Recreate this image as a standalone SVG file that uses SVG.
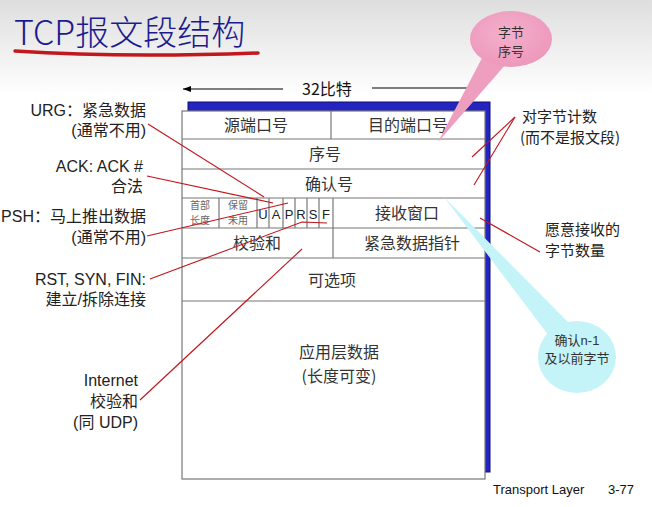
<svg xmlns="http://www.w3.org/2000/svg" width="652" height="507" viewBox="0 0 652 507">
  <defs>
    <linearGradient id="bg" x1="0" y1="0" x2="0" y2="1">
      <stop offset="0" stop-color="#dedede"/>
      <stop offset="1" stop-color="#ffffff"/>
    </linearGradient>
    <radialGradient id="pink" cx="0.45" cy="0.4" r="0.7">
      <stop offset="0" stop-color="#f4b0cc"/>
      <stop offset="1" stop-color="#ec94b8"/>
    </radialGradient>
    <marker id="arrowL" markerWidth="8" markerHeight="6" refX="0" refY="3" orient="auto" markerUnits="userSpaceOnUse">
      <path d="M8,0 L0,3 L8,6 z" fill="#000"/>
    </marker>
    <style>
      .cjk { font-family: "Noto Sans CJK SC", "Liberation Sans", sans-serif; }
      .cell { font-family: "Noto Sans CJK SC", sans-serif; font-size: 16px; fill: #333; text-anchor: middle; }
      .small { font-family: "Noto Sans CJK SC", sans-serif; font-size: 10px; fill: #666; text-anchor: middle; }
      .flag { font-family: "Liberation Sans", sans-serif; font-size: 13px; fill: #222; text-anchor: middle; }
      .lbl { font-family: "Liberation Sans", "Noto Sans CJK SC", sans-serif; font-size: 16px; fill: #222; text-anchor: end; }
      .rlbl { font-family: "Noto Sans CJK SC", sans-serif; font-size: 15px; fill: #222; }
      .grid { fill: none; stroke: #777; stroke-width: 1.2; }
      .lead { stroke: #c0141a; stroke-width: 1.1; fill: none; }
      .bub { font-family: "Noto Sans CJK SC", sans-serif; font-size: 13px; fill: #333; text-anchor: middle; }
    </style>
  </defs>

  <!-- page background -->
  <rect x="0" y="0" width="652" height="507" fill="#fff"/>
  <rect x="0" y="0" width="652" height="95" fill="url(#bg)"/>

  <!-- title -->
  <g id="title">
    <text x="14" y="45" class="cjk" font-size="34" font-weight="300" fill="#1b1b8f">TCP报文段结构</text>
    <path d="M15,51 Q120,58 258,53" stroke="#c0181c" stroke-width="3.5" fill="none" stroke-linecap="round"/>
  </g>

  <!-- width indicator -->
  <g id="width-32bit">
    <line x1="183" y1="89" x2="283" y2="89" stroke="#000" stroke-width="1.2" marker-start="url(#arrowL)"/>
    <text x="327" y="95" class="cjk" font-size="16" fill="#111" text-anchor="middle">32比特</text>
    <line x1="372" y1="88" x2="470" y2="88" stroke="#000" stroke-width="1.2"/>
  </g>

  <!-- segment header table -->
  <g id="segment">
    <rect x="188" y="102" width="302" height="370" fill="#2424c0" stroke="#101070" stroke-width="1"/>
    <rect x="182" y="111" width="303" height="368" fill="#fff" stroke="#777" stroke-width="1.2"/>
    <line class="grid" x1="182" y1="139" x2="485" y2="139"/>
    <line class="grid" x1="182" y1="169" x2="485" y2="169"/>
    <line class="grid" x1="182" y1="198" x2="485" y2="198"/>
    <line class="grid" x1="182" y1="228" x2="485" y2="228"/>
    <line class="grid" x1="182" y1="258" x2="485" y2="258"/>
    <line class="grid" x1="182" y1="301" x2="485" y2="301"/>
    <line class="grid" x1="331" y1="111" x2="331" y2="139"/>
    <line class="grid" x1="219" y1="198" x2="219" y2="228"/>
    <line class="grid" x1="257" y1="198" x2="257" y2="228"/>
    <line class="grid" x1="269" y1="198" x2="269" y2="228"/>
    <line class="grid" x1="283" y1="198" x2="283" y2="228"/>
    <line class="grid" x1="295" y1="198" x2="295" y2="228"/>
    <line class="grid" x1="307" y1="198" x2="307" y2="228"/>
    <line class="grid" x1="319" y1="198" x2="319" y2="228"/>
    <line class="grid" x1="333" y1="198" x2="333" y2="258"/>

    <text class="cell" x="256" y="131">源端口号</text>
    <text class="cell" x="408" y="131">目的端口号</text>
    <text class="cell" x="325" y="160">序号</text>
    <text class="cell" x="329" y="190">确认号</text>
    <text class="small" x="200" y="209">首部</text>
    <text class="small" x="200" y="224">长度</text>
    <text class="small" x="238" y="209">保留</text>
    <text class="small" x="238" y="224">未用</text>
    <text class="flag" x="263" y="219">U</text>
    <text class="flag" x="276" y="219">A</text>
    <text class="flag" x="289" y="219">P</text>
    <text class="flag" x="301" y="219">R</text>
    <text class="flag" x="313" y="219">S</text>
    <text class="flag" x="326" y="219">F</text>
    <text class="cell" x="407" y="219">接收窗口</text>
    <text class="cell" x="257" y="249">校验和</text>
    <text class="cell" x="412" y="249">紧急数据指针</text>
    <text class="cell" x="332" y="286">可选项</text>
    <text class="cell" x="339" y="358">应用层数据</text>
    <text class="cell" x="339" y="382">(长度可变)</text>
  </g>

  <!-- callout bubbles -->
  <g id="bubble-seq">
    <polygon points="482,58 506,64 438,142" fill="#ee9fbf"/>
    <ellipse cx="511" cy="39" rx="41" ry="28" fill="url(#pink)"/>
    <text class="bub" x="511" y="37">字节</text>
    <text class="bub" x="511" y="56">序号</text>
  </g>
  <g id="bubble-ack">
    <polygon points="444,197 552,340 568,322" fill="#c4f3f8"/>
    <ellipse cx="577" cy="357" rx="39" ry="36" fill="#c4f3f8"/>
    <text class="bub" x="577" y="345">确认<tspan font-family="Liberation Sans">n-1</tspan></text>
    <text class="bub" x="577" y="363">及以前字节</text>
  </g>

  <!-- leader lines -->
  <g id="connectors">
    <line class="lead" x1="148" y1="124" x2="264" y2="197"/>
    <line class="lead" x1="147" y1="176" x2="273" y2="203"/>
    <line class="lead" x1="147" y1="236" x2="288" y2="203"/>
    <polyline class="lead" points="150,279 302,222 327,223"/>
    <line class="lead" x1="140" y1="400" x2="302" y2="249"/>
    <line class="lead" x1="515" y1="117" x2="472" y2="157"/>
    <line class="lead" x1="515" y1="117" x2="474" y2="185"/>
    <line class="lead" x1="540" y1="252" x2="480" y2="218"/>
  </g>

  <!-- left annotations -->
  <g id="note-urg">
    <text class="lbl" x="146" y="116">URG：紧急数据</text>
    <text class="lbl" x="146" y="136">(通常不用)</text>
  </g>
  <g id="note-ack">
    <text class="lbl" x="143" y="172">ACK: ACK #</text>
    <text class="lbl" x="143" y="192">合法</text>
  </g>
  <g id="note-psh">
    <text class="lbl" x="146" y="222">PSH：马上推出数据</text>
    <text class="lbl" x="146" y="243">(通常不用)</text>
  </g>
  <g id="note-rst">
    <text class="lbl" x="146" y="285">RST, SYN, FIN:</text>
    <text class="lbl" x="146" y="305">建立/拆除连接</text>
  </g>
  <g id="note-checksum">
    <text class="lbl" x="138" y="386">Internet</text>
    <text class="lbl" x="138" y="407" fill="#666">校验和</text>
    <text class="lbl" x="138" y="428">(同 UDP)</text>
  </g>

  <!-- right annotations -->
  <g id="note-bytes">
    <text class="rlbl" x="522" y="122">对字节计数</text>
    <text class="rlbl" x="520" y="143">(而不是报文段)</text>
  </g>
  <g id="note-window">
    <text class="rlbl" x="545" y="235">愿意接收的</text>
    <text class="rlbl" x="545" y="256">字节数量</text>
  </g>

  <!-- footer -->
  <g id="footer" font-family="Liberation Sans, sans-serif" font-size="13" fill="#111">
    <text x="493" y="494">Transport Layer</text>
    <text x="608" y="494">3-77</text>
  </g>
</svg>
